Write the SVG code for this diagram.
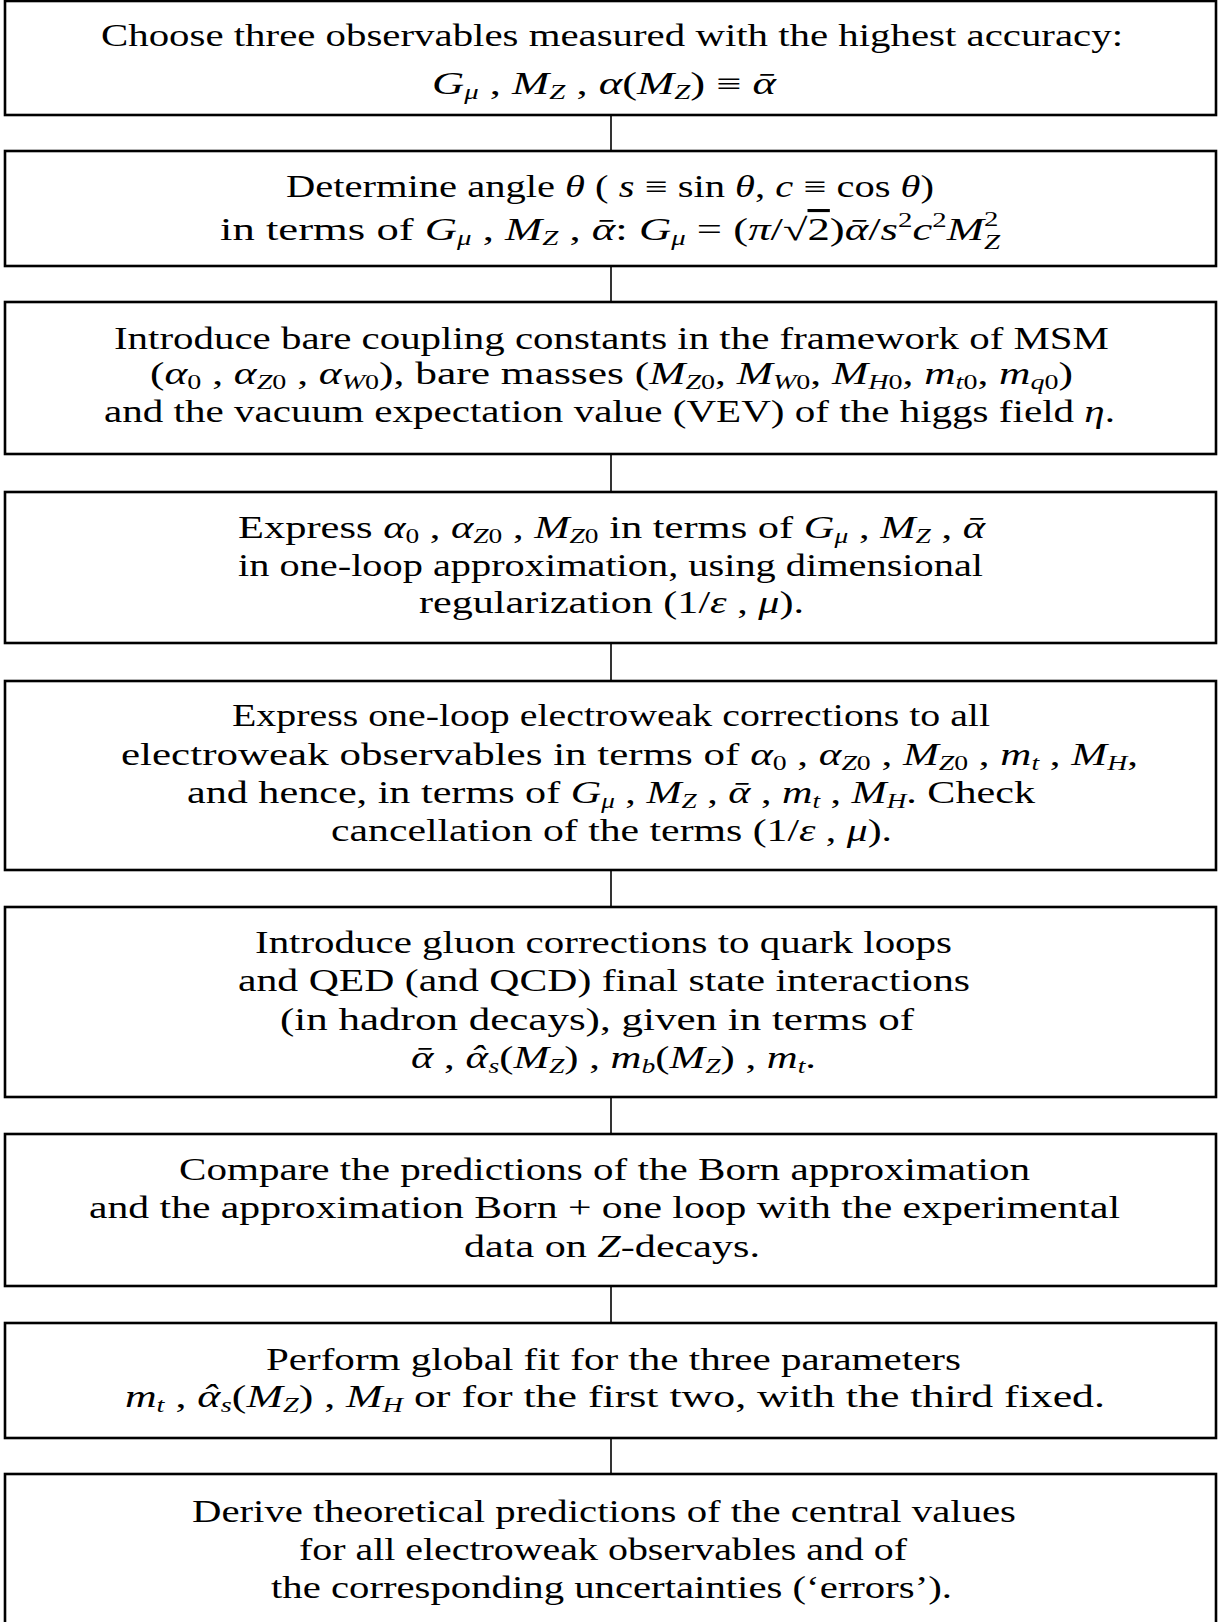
<svg xmlns="http://www.w3.org/2000/svg" width="1227" height="1622" viewBox="0 0 1227 1622">
<style>
.box{fill:#fff;stroke:#000;stroke-width:2.6}
.conn line{stroke:#000;stroke-width:1.6}
text{font-family:"Liberation Serif","Times New Roman",serif;font-size:31px;fill:#000}
.i{font-style:italic}
.s{font-size:20px}
</style>
<rect width="1227" height="1622" fill="#fff"/>
<g id="connectors" class="conn">
<line x1="611" y1="115" x2="611" y2="151"/>
<line x1="611" y1="266" x2="611" y2="302"/>
<line x1="611" y1="454" x2="611" y2="492"/>
<line x1="611" y1="643" x2="611" y2="681"/>
<line x1="611" y1="870" x2="611" y2="907"/>
<line x1="611" y1="1097" x2="611" y2="1134"/>
<line x1="611" y1="1286" x2="611" y2="1323"/>
<line x1="611" y1="1438" x2="611" y2="1474"/>
</g>
<g id="n1">
<rect class="box" x="5" y="1" width="1211" height="114"/>
<text x="101" y="46" textLength="1022" lengthAdjust="spacingAndGlyphs">Choose three observables measured with the highest accuracy:</text>
<text x="432" y="94" textLength="344" lengthAdjust="spacingAndGlyphs"><tspan class="i">G</tspan><tspan class="s i" dy="5">μ</tspan><tspan dy="-5"> , </tspan><tspan class="i">M</tspan><tspan class="s i" dy="5">Z</tspan><tspan dy="-5"> , </tspan><tspan class="i">α</tspan>(<tspan class="i">M</tspan><tspan class="s i" dy="5">Z</tspan><tspan dy="-5">) ≡ </tspan><tspan class="i">ᾱ</tspan></text>
</g>
<g id="n2">
<rect class="box" x="5" y="151" width="1211" height="115"/>
<text x="286" y="197" textLength="648" lengthAdjust="spacingAndGlyphs">Determine angle <tspan class="i">θ</tspan> (  <tspan class="i">s</tspan> ≡ sin <tspan class="i">θ</tspan>, <tspan class="i">c</tspan> ≡ cos <tspan class="i">θ</tspan>)</text>
<text x="220" y="240" textLength="780" lengthAdjust="spacingAndGlyphs">in terms of <tspan class="i">G</tspan><tspan class="s i" dy="5">μ</tspan><tspan dy="-5"> , </tspan><tspan class="i">M</tspan><tspan class="s i" dy="5">Z</tspan><tspan dy="-5"> , </tspan><tspan class="i">ᾱ</tspan>: <tspan class="i">G</tspan><tspan class="s i" dy="5">μ</tspan><tspan dy="-5"> = (</tspan><tspan class="i">π</tspan>/√<tspan text-decoration="overline">2</tspan>)<tspan class="i">ᾱ</tspan>/<tspan class="i">s</tspan><tspan class="s" dy="-13">2</tspan><tspan class="i" dy="13">c</tspan><tspan class="s" dy="-13">2</tspan><tspan class="i" dy="13">M</tspan><tspan class="s" dy="-14">2</tspan><tspan class="s i" dx="-10" dy="23">Z</tspan></text>
</g>
<g id="n3">
<rect class="box" x="5" y="302" width="1211" height="152"/>
<text x="114" y="349" textLength="995" lengthAdjust="spacingAndGlyphs">Introduce bare coupling constants in the framework of MSM</text>
<text x="150" y="384" textLength="923" lengthAdjust="spacingAndGlyphs">(<tspan class="i">α</tspan><tspan class="s" dy="5">0</tspan><tspan dy="-5"> , </tspan><tspan class="i">α</tspan><tspan class="s" dy="5"><tspan class="i">Z</tspan>0</tspan><tspan dy="-5"> , </tspan><tspan class="i">α</tspan><tspan class="s" dy="5"><tspan class="i">W</tspan>0</tspan><tspan dy="-5">), bare masses (</tspan><tspan class="i">M</tspan><tspan class="s" dy="5"><tspan class="i">Z</tspan>0</tspan><tspan dy="-5">, </tspan><tspan class="i">M</tspan><tspan class="s" dy="5"><tspan class="i">W</tspan>0</tspan><tspan dy="-5">, </tspan><tspan class="i">M</tspan><tspan class="s" dy="5"><tspan class="i">H</tspan>0</tspan><tspan dy="-5">, </tspan><tspan class="i">m</tspan><tspan class="s" dy="5"><tspan class="i">t</tspan>0</tspan><tspan dy="-5">, </tspan><tspan class="i">m</tspan><tspan class="s" dy="5"><tspan class="i">q</tspan>0</tspan><tspan dy="-5">)</tspan></text>
<text x="104" y="422" textLength="1011" lengthAdjust="spacingAndGlyphs">and the vacuum expectation value (VEV) of the higgs field <tspan class="i">η</tspan>.</text>
</g>
<g id="n4">
<rect class="box" x="5" y="492" width="1211" height="151"/>
<text x="238" y="538" textLength="747" lengthAdjust="spacingAndGlyphs">Express <tspan class="i">α</tspan><tspan class="s" dy="5">0</tspan><tspan dy="-5"> , </tspan><tspan class="i">α</tspan><tspan class="s" dy="5"><tspan class="i">Z</tspan>0</tspan><tspan dy="-5"> , </tspan><tspan class="i">M</tspan><tspan class="s" dy="5"><tspan class="i">Z</tspan>0</tspan><tspan dy="-5"> in terms of </tspan><tspan class="i">G</tspan><tspan class="s i" dy="5">μ</tspan><tspan dy="-5"> , </tspan><tspan class="i">M</tspan><tspan class="s i" dy="5">Z</tspan><tspan dy="-5"> , </tspan><tspan class="i">ᾱ</tspan></text>
<text x="238" y="576" textLength="745" lengthAdjust="spacingAndGlyphs">in one-loop approximation, using dimensional</text>
<text x="419" y="613" textLength="385" lengthAdjust="spacingAndGlyphs">regularization (1/<tspan class="i">ε</tspan> , <tspan class="i">μ</tspan>).</text>
</g>
<g id="n5">
<rect class="box" x="5" y="681" width="1211" height="189"/>
<text x="232" y="726" textLength="758" lengthAdjust="spacingAndGlyphs">Express one-loop electroweak corrections to all</text>
<text x="121" y="765" textLength="1017" lengthAdjust="spacingAndGlyphs">electroweak observables in terms of <tspan class="i">α</tspan><tspan class="s" dy="5">0</tspan><tspan dy="-5"> , </tspan><tspan class="i">α</tspan><tspan class="s" dy="5"><tspan class="i">Z</tspan>0</tspan><tspan dy="-5"> , </tspan><tspan class="i">M</tspan><tspan class="s" dy="5"><tspan class="i">Z</tspan>0</tspan><tspan dy="-5"> , </tspan><tspan class="i">m</tspan><tspan class="s i" dy="5">t</tspan><tspan dy="-5"> , </tspan><tspan class="i">M</tspan><tspan class="s i" dy="5">H</tspan><tspan dy="-5">,</tspan></text>
<text x="187" y="803" textLength="848" lengthAdjust="spacingAndGlyphs">and hence, in terms of <tspan class="i">G</tspan><tspan class="s i" dy="5">μ</tspan><tspan dy="-5"> , </tspan><tspan class="i">M</tspan><tspan class="s i" dy="5">Z</tspan><tspan dy="-5"> , </tspan><tspan class="i">ᾱ</tspan> , <tspan class="i">m</tspan><tspan class="s i" dy="5">t</tspan><tspan dy="-5"> , </tspan><tspan class="i">M</tspan><tspan class="s i" dy="5">H</tspan><tspan dy="-5">. Check</tspan></text>
<text x="331" y="841" textLength="561" lengthAdjust="spacingAndGlyphs">cancellation of the terms (1/<tspan class="i">ε</tspan> , <tspan class="i">μ</tspan>).</text>
</g>
<g id="n6">
<rect class="box" x="5" y="907" width="1211" height="190"/>
<text x="255" y="953" textLength="697" lengthAdjust="spacingAndGlyphs">Introduce gluon corrections to quark loops</text>
<text x="238" y="991" textLength="732" lengthAdjust="spacingAndGlyphs">and QED (and QCD) final state interactions</text>
<text x="280" y="1030" textLength="634" lengthAdjust="spacingAndGlyphs">(in hadron decays), given in terms of</text>
<text x="411" y="1068" textLength="405" lengthAdjust="spacingAndGlyphs"><tspan class="i">ᾱ</tspan> , <tspan class="i" dx="0 -13" dy="0 -1">αˆ</tspan><tspan class="s i" dx="3" dy="6">s</tspan><tspan dy="-5">(</tspan><tspan class="i">M</tspan><tspan class="s i" dy="5">Z</tspan><tspan dy="-5">) , </tspan><tspan class="i">m</tspan><tspan class="s i" dy="5">b</tspan><tspan dy="-5">(</tspan><tspan class="i">M</tspan><tspan class="s i" dy="5">Z</tspan><tspan dy="-5">) , </tspan><tspan class="i">m</tspan><tspan class="s i" dy="5">t</tspan><tspan dy="-5">.</tspan></text>
</g>
<g id="n7">
<rect class="box" x="5" y="1134" width="1211" height="152"/>
<text x="179" y="1180" textLength="851" lengthAdjust="spacingAndGlyphs">Compare the predictions of the Born approximation</text>
<text x="89" y="1218" textLength="1031" lengthAdjust="spacingAndGlyphs">and the approximation Born + one loop with the experimental</text>
<text x="464" y="1257" textLength="296" lengthAdjust="spacingAndGlyphs">data on <tspan class="i">Z</tspan>-decays.</text>
</g>
<g id="n8">
<rect class="box" x="5" y="1323" width="1211" height="115"/>
<text x="266" y="1370" textLength="695" lengthAdjust="spacingAndGlyphs">Perform global fit for the three parameters</text>
<text x="125" y="1407" textLength="980" lengthAdjust="spacingAndGlyphs"><tspan class="i">m</tspan><tspan class="s i" dy="5">t</tspan><tspan dy="-5"> , </tspan><tspan class="i" dx="0 -13" dy="0 -1">αˆ</tspan><tspan class="s i" dx="3" dy="6">s</tspan><tspan dy="-5">(</tspan><tspan class="i">M</tspan><tspan class="s i" dy="5">Z</tspan><tspan dy="-5">) , </tspan><tspan class="i">M</tspan><tspan class="s i" dy="5">H</tspan><tspan dy="-5"> or for the first two, with the third fixed.</tspan></text>
</g>
<g id="n9">
<rect class="box" x="5" y="1474" width="1211" height="160"/>
<text x="192" y="1522" textLength="824" lengthAdjust="spacingAndGlyphs">Derive theoretical predictions of the central values</text>
<text x="299" y="1560" textLength="608" lengthAdjust="spacingAndGlyphs">for all electroweak observables and of</text>
<text x="271" y="1598" textLength="681" lengthAdjust="spacingAndGlyphs">the corresponding uncertainties (‘errors’).</text>
</g>
</svg>
